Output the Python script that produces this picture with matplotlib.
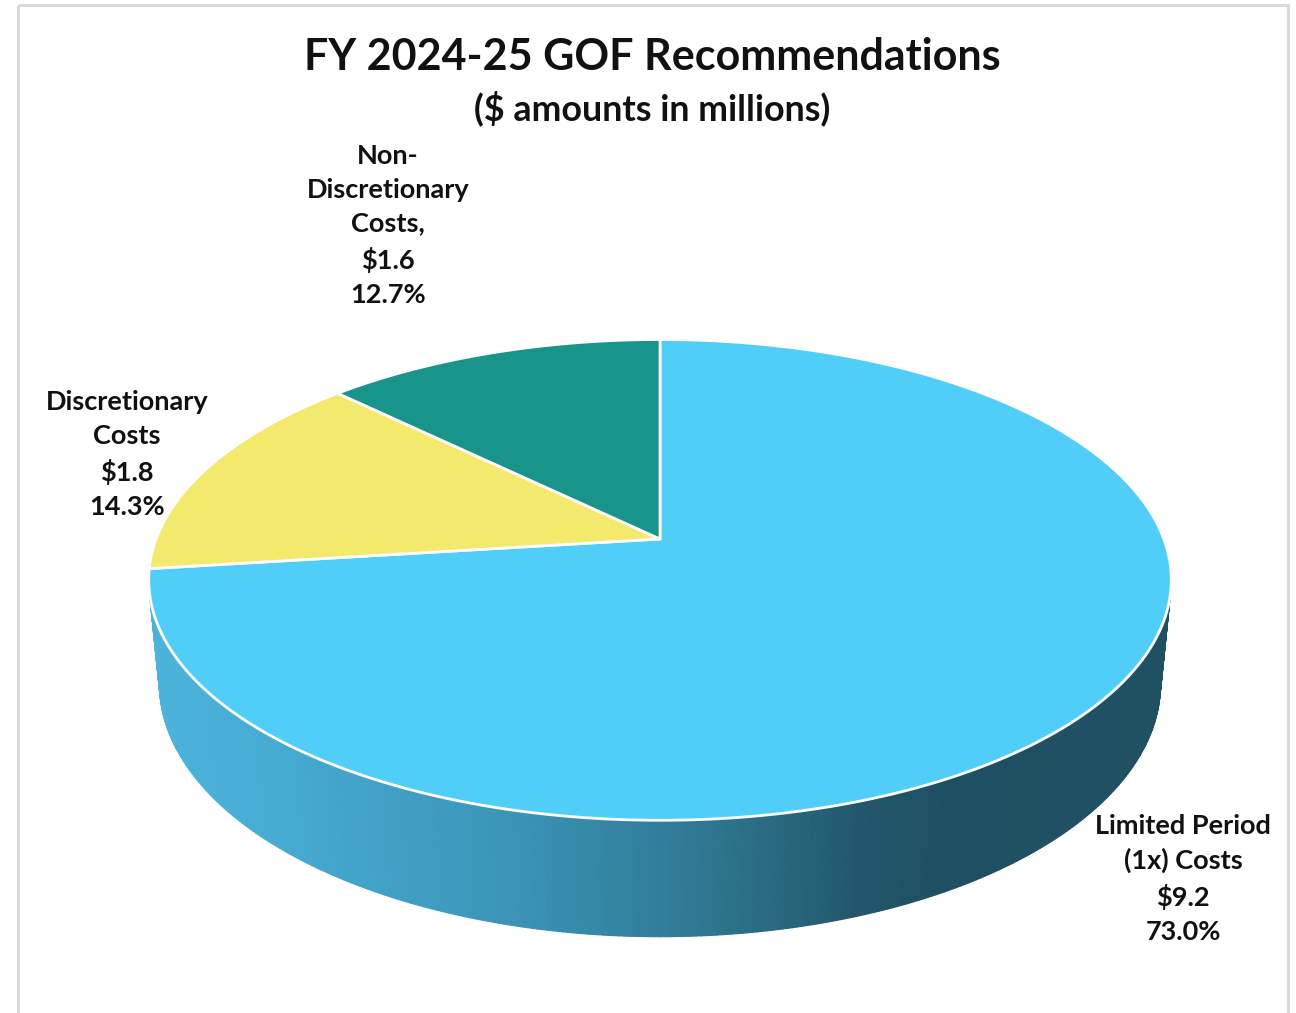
import numpy as np
import matplotlib
matplotlib.use("Agg")
import matplotlib.pyplot as plt
from matplotlib.patches import Polygon, Rectangle
from matplotlib.collections import PolyCollection
from matplotlib.colors import LinearSegmentedColormap

# ---------------- data ----------------
categories = ["Limited Period\n(1x) Costs", "Discretionary\nCosts", "Non-\nDiscretionary\nCosts,"]
values = [9.2, 1.8, 1.6]           # $ millions
slice_colors = ["#50CEF7", "#F3E96D", "#18948A"]
title = "FY 2024-25 GOF Recommendations"
subtitle = "($ amounts in millions)"

# label anchor positions (pixels, layout only)
label_pos = [(1183, 879), (127, 454), (388, 225)]

FONT = "Lato"
W, H = 1296, 1013
fig = plt.figure(figsize=(W / 100, H / 100), dpi=100)
ax = fig.add_axes([0, 0, 1, 1])
ax.set_xlim(0, W)
ax.set_ylim(H, 0)
ax.axis("off")

# frame
ax.add_patch(Rectangle((18, 5), 1270, 1030, fill=False, ec="#D9D9D9", lw=2.2, zorder=0))

# ------------- perspective 3D pie -------------
theta = np.deg2rad(27.6)
cth, sth = np.cos(theta), np.sin(theta)
Ldist = 5.21
f = 2625.0
thick = 0.235
cx, cy = 660.0, 539.0


def project(x, y, z):
    depth = y * cth + Ldist - z * sth
    up = y * sth + z * cth
    return cx + f * x / depth, cy - f * up / depth


total = float(sum(values))
fracs = [v / total for v in values]

# side wall (cylinder) drawn as many small quads, colored by screen x gradient
side_cmap = LinearSegmentedColormap.from_list(
    "side",
    [(0.0, "#4CB4DB"), (0.12, "#47ABD2"), (0.35, "#3B95B8"),
     (0.55, "#2E7690"), (0.70, "#22566A"), (0.78, "#1F4F62"), (1.0, "#205163")])
N = 720
phis = np.linspace(0, 2 * np.pi, N + 1)
quads, qcols = [], []
for i in range(N):
    p0, p1 = phis[i], phis[i + 1]
    xa, ya = np.cos(p0), np.sin(p0)
    xb, yb = np.cos(p1), np.sin(p1)
    pts = [project(xa, ya, 0), project(xb, yb, 0),
           project(xb, yb, -thick), project(xa, ya, -thick)]
    quads.append(pts)
    mx = np.mean([p[0] for p in pts])
    t = np.clip((mx - 150) / (1170 - 150), 0, 1)
    qcols.append(side_cmap(t))
pc = PolyCollection(quads, facecolors=qcols, edgecolors=qcols, linewidths=0.8, zorder=1)
ax.add_collection(pc)

# top face wedges (start at 12 o'clock, clockwise)
start = 90.0
for frac, col in zip(fracs, slice_colors):
    sweep = 360.0 * frac
    angs = np.deg2rad(np.linspace(start, start - sweep, max(int(sweep * 2), 4)))
    pts = [project(0, 0, 0)] + [project(np.cos(a), np.sin(a), 0) for a in angs]
    ax.add_patch(Polygon(pts, closed=True, fc=col, ec="white", lw=2.0, zorder=2,
                         joinstyle="round"))
    start -= sweep

# ------------- texts -------------
ax.text(652, 57, title, ha="center", va="center", fontsize=31, fontweight="bold",
        family=FONT, color="#111111")
ax.text(652, 108, subtitle, ha="center", va="center", fontsize=25.8, fontweight="bold",
        family=FONT, color="#111111")

for cat, val, frac, (lx, ly) in zip(categories, values, fracs, label_pos):
    txt = f"{cat}\n${val:.1f}\n{frac * 100:.1f}%"
    ax.text(lx, ly, txt, ha="center", va="center", fontsize=19.5, fontweight="bold",
            family=FONT, color="#111111", linespacing=1.5)

fig.savefig("out.png", dpi=100)
